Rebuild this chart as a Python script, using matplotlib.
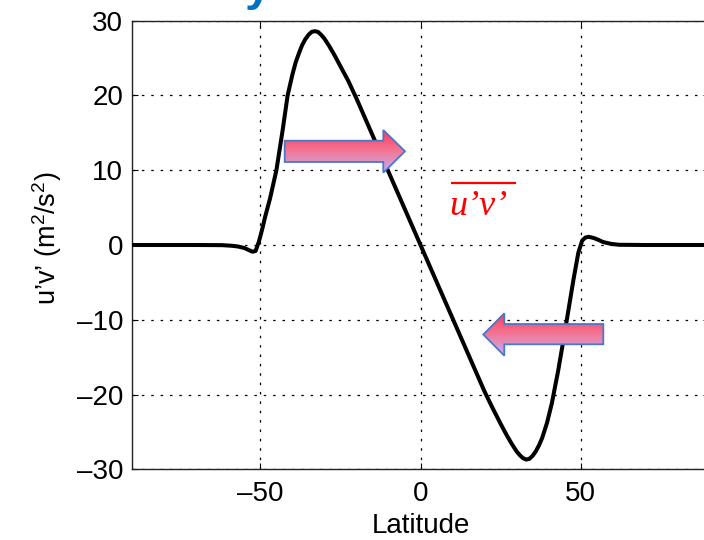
import numpy as np
import matplotlib
matplotlib.use("Agg")
import matplotlib.pyplot as plt
from matplotlib.patches import Polygon
from matplotlib.colors import LinearSegmentedColormap

# ---- data ----
latitude = [-90, -80, -70, -62, -59, -57, -55, -53.5, -52.5, -51.5, -50.5, -49.5,
            -48.5, -47, -45, -43, -41.5, -40, -39, -38, -37, -36, -35, -34, -33,
            -32, -31, -30, -28.5, -27, -25, -22.5, -20, -15, -10, -5, 0,
            5, 10, 15, 20, 22.5, 25, 27, 28.5, 30, 31, 32, 33, 34, 35, 36, 37,
            38, 39.5, 41, 43, 45, 46.7, 47.7, 49.3, 50.5, 51.5, 52.5, 54, 55.5,
            57, 59.5, 62, 70, 80, 90]
uv_flux = [0, 0, 0, -0.02, -0.1, -0.2, -0.4, -0.7, -0.9, -0.8, 0.4, 2.0,
           3.8, 6.2, 10.0, 15.5, 20.0, 22.8, 24.4, 25.6, 26.7, 27.5, 28.1, 28.5, 28.6,
           28.5, 28.1, 27.6, 26.6, 25.5, 23.9, 21.9, 19.6, 14.7, 9.8, 4.9, 0,
           -4.9, -9.8, -14.7, -19.6, -21.8, -23.9, -25.5, -26.6, -27.6, -28.1, -28.5, -28.7, -28.6, -28.2, -27.6, -26.8,
           -25.8, -23.8, -21.2, -16.8, -11.8, -7.4, -4.8, -1.0, 0.6, 1.0, 1.1, 0.95, 0.7,
           0.4, 0.15, 0.03, 0, 0, 0]
x_ticks = [-50, 0, 50]
y_ticks = [-30, -20, -10, 0, 10, 20, 30]
x_label = "Latitude"
y_label = "u\u2019v\u2019 (m$^2$/s$^2$)"
annot_label = "u\u2019v\u2019"
title_fragment = "y"

plt.rcParams['font.family'] = ['Liberation Sans', 'DejaVu Sans']
plt.rcParams['mathtext.fontset'] = 'custom'
plt.rcParams['mathtext.rm'] = 'Liberation Sans'
plt.rcParams['mathtext.it'] = 'Liberation Sans:italic'
plt.rcParams['mathtext.default'] = 'regular'

W, H = 704, 540
fig = plt.figure(figsize=(W / 100, H / 100), dpi=100)
fig.patch.set_facecolor('white')

left, right, top, bottom = 132.3, 708.7, 20.7, 469.3
ax = fig.add_axes([left / W, 1 - bottom / H, (right - left) / W, (bottom - top) / H])

ax.plot(latitude, uv_flux, color='black', lw=2.9, solid_joinstyle='round',
        solid_capstyle='round', zorder=3)
ax.set_xlim(-90, 90)
ax.set_ylim(-30, 30)
ax.set_xticks(x_ticks)
ax.set_yticks(y_ticks)
ax.set_xticklabels([str(v).replace('-', '\u2013') for v in x_ticks])
ax.set_yticklabels([str(v).replace('-', '\u2013') for v in y_ticks])
ax.tick_params(direction='in', length=4, width=0.8, labelsize=20, top=True, right=True)
ax.tick_params(axis='x', pad=8.5)
ax.tick_params(axis='y', pad=6.5)
ax.grid(True, color='black', linestyle=(0, (2, 5.5)), linewidth=0.9)
for s in ax.spines.values():
    s.set_linewidth(1.0)
    s.set_color('#222222')

ax.set_xlabel(x_label, fontsize=20)
ax.xaxis.set_label_coords(0.5, -0.098)
ax.set_ylabel(y_label, fontsize=19.5)
ax.yaxis.set_label_coords(-0.118, 0.515)

# ---- overlay for annotations (pixel coordinates) ----
ov = fig.add_axes([0, 0, 1, 1], zorder=10)
ov.set_xlim(0, W)
ov.set_ylim(H, 0)
ov.axis('off')
ov.patch.set_alpha(0)

cmap = LinearSegmentedColormap.from_list('arr', ['#ff3a5a', '#f27898', '#c4b0f6'])
grad = np.linspace(0, 1, 64).reshape(-1, 1)

def grad_arrow(pts):
    poly = Polygon(pts, closed=True, facecolor='none', edgecolor='#4a78c8', lw=1.3, zorder=3)
    ov.add_patch(poly)
    xs = [p[0] for p in pts]
    ys = [p[1] for p in pts]
    im = ov.imshow(grad, cmap=cmap, aspect='auto', origin='upper',
                   extent=(min(xs), max(xs), max(ys), min(ys)), zorder=2)
    im.set_clip_path(poly)

grad_arrow([(284.7, 140.7), (383.3, 140.7), (383.3, 130.0), (405.0, 151.3),
            (383.3, 172.7), (383.3, 162.0), (284.7, 162.0)])
grad_arrow([(603.3, 324.0), (504.3, 324.0), (504.3, 313.3), (483.3, 334.5),
            (504.3, 355.7), (504.3, 344.3), (603.3, 344.3)])

ov.set_xlim(0, W)
ov.set_ylim(H, 0)

# red overlined u'v'
ov.text(449, 215, annot_label, color='#ff0000', fontsize=26, ha='left', va='baseline',
        family='Liberation Serif', style='italic')
ov.plot([450.7, 516], [182.7, 182.7], color='#ff0000', lw=1.6, solid_capstyle='butt')

# cut-off blue title fragment at the very top (only its descender is visible)
ov.text(258, 0, title_fragment, color='#0070c0', fontsize=34, fontweight='bold',
        ha='center', va='baseline')

fig.savefig('out.png', dpi=100, facecolor='white')
